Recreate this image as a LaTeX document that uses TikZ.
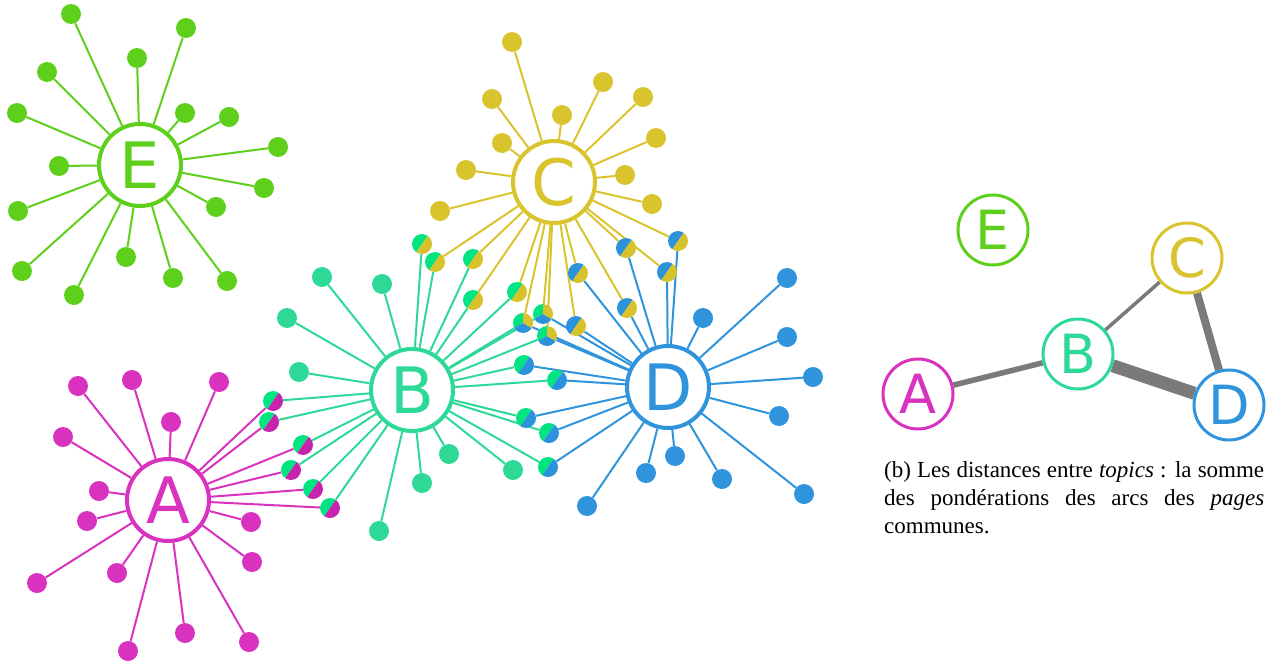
\documentclass[tikz,border=0pt]{standalone}
\usepackage{fontspec}
\setmainfont{Liberation Serif}
\newfontfamily\hubfam{DejaVu Sans}
\pgfdeclarelayer{bg}
\pgfsetlayers{bg,main}
\definecolor{cE}{RGB}{94,208,28}
\definecolor{cA}{RGB}{216,50,190}
\definecolor{cB}{RGB}{46,217,152}
\definecolor{cC}{RGB}{218,196,46}
\definecolor{cD}{RGB}{48,148,220}
\definecolor{sG}{RGB}{0,228,130}
\definecolor{sA}{RGB}{198,36,172}
\definecolor{sC}{RGB}{216,194,44}
\definecolor{sD}{RGB}{44,146,220}
\definecolor{wgray}{RGB}{122,122,122}
\tikzset{
  hub/.style={circle, draw=#1, text=#1, line width=4, fill=white, minimum size=82, inner sep=0,
    font=\hubfam\fontsize{64}{64}\selectfont},
  hubs/.style={circle, draw=#1, text=#1, line width=3, fill=white, minimum size=70, inner sep=0,
    font=\hubfam\fontsize{54}{54}\selectfont},
  leaf/.style={circle, minimum size=20, inner sep=0, fill=#1},
  pietwo/.style 2 args={circle, minimum size=20, inner sep=0, path picture={
    \fill[#1] (path picture bounding box.center) -- +(55:12pt) arc[start angle=55, end angle=235, radius=12pt] -- cycle;
    \fill[#2] (path picture bounding box.center) -- +(235:12pt) arc[start angle=235, end angle=415, radius=12pt] -- cycle;}},
  piethree/.style={circle, minimum size=20, inner sep=0, path picture={
    \fill[sG] (path picture bounding box.center) -- +(90:12pt) arc[start angle=90, end angle=210, radius=12pt] -- cycle;
    \fill[sD] (path picture bounding box.center) -- +(210:12pt) arc[start angle=210, end angle=330, radius=12pt] -- cycle;
    \fill[sC] (path picture bounding box.center) -- +(330:12pt) arc[start angle=330, end angle=450, radius=12pt] -- cycle;}},
  edge/.style={line width=2, draw=#1},
  wedge/.style={draw=wgray, line width=#1}
}
\begin{document}
\begin{tikzpicture}[x=1pt,y=1pt]
\useasboundingbox (0,0) rectangle (1271,-661);
% hubs
\node[hub=cE] (E) at (140,-165) {E};
\node[hub=cA] (A) at (168,-500) {A};
\node[hub=cB] (B) at (412,-390) {B};
\node[hub=cC] (C) at (554,-182) {C};
\node[hub=cD] (D) at (668,-387) {D};
% E leaves
\foreach \x/\y [count=\i] in {71/-14,186/-28,137/-58,47/-72,17/-113,185/-113,229/-117,278/-147,59/-166,264/-188,18/-211,216/-207,22/-271,126/-257,74/-295,173/-278,227/-281}
  \node[leaf=cE] (e\i) at (\x,\y) {};
% A leaves
\foreach \x/\y [count=\i] in {78/-386,132/-380,219/-382,171/-422,63/-437,99/-491,87/-521,251/-522,252/-562,117/-573,37/-583,185/-633,249/-642,128/-651}
  \node[leaf=cA] (a\i) at (\x,\y) {};
% B leaves
\foreach \x/\y [count=\i] in {322/-277,382/-284,287/-318,299/-372,449/-454,422/-483,513/-470,379/-531}
  \node[leaf=cB] (b\i) at (\x,\y) {};
% C leaves
\foreach \x/\y [count=\i] in {512/-42,492/-99,603/-82,643/-97,562/-115,502/-143,656/-138,466/-170,625/-175,440/-211,652/-204}
  \node[leaf=cC] (c\i) at (\x,\y) {};
% D leaves
\foreach \x/\y [count=\i] in {787/-278,703/-318,787/-337,813/-377,779/-416,675/-456,646/-473,722/-479,804/-494,587/-506}
  \node[leaf=cD] (d\i) at (\x,\y) {};
% shared A-B
\foreach \x/\y [count=\i] in {273/-401,269/-422,303/-445,291/-470,313/-489,330/-508}
  \node[pietwo={sG}{sA}] (ab\i) at (\x,\y) {};
% shared B-C
\foreach \x/\y [count=\i] in {422/-244,435/-262,473/-259,473/-300,517/-292}
  \node[pietwo={sG}{sC}] (bc\i) at (\x,\y) {};
% shared B-C-D
\foreach \x/\y [count=\i] in {523/-323,543/-314,547/-336}
  \node[piethree] (bcd\i) at (\x,\y) {};
% shared C-D
\foreach \x/\y [count=\i] in {578/-273,626/-248,678/-241,667/-272,627/-308,576/-326}
  \node[pietwo={sD}{sC}] (cd\i) at (\x,\y) {};
% shared B-D
\foreach \x/\y [count=\i] in {524/-365,557/-380,526/-418,549/-433,548/-467}
  \node[pietwo={sG}{sD}] (bd\i) at (\x,\y) {};
% edges
\begin{pgfonlayer}{bg}
\foreach \i in {1,...,17} \draw[edge=cE] (E) -- (e\i);
\foreach \i in {1,...,14} \draw[edge=cA] (A) -- (a\i);
\foreach \i in {1,...,8} \draw[edge=cB] (B) -- (b\i);
\foreach \i in {1,...,11} \draw[edge=cC] (C) -- (c\i);
\foreach \i in {1,...,10} \draw[edge=cD] (D) -- (d\i);
\foreach \i in {1,...,6} {\draw[edge=cA] (A) -- (ab\i); \draw[edge=cB] (B) -- (ab\i);}
\draw[edge=cB] (B) -- (bc1);
\foreach \i in {2,...,5} {\draw[edge=cB] (B) -- (bc\i); \draw[edge=cC] (C) -- (bc\i);}
\foreach \i in {1,...,3} {\draw[edge=cB] (B) -- (bcd\i); \draw[edge=cC] (C) -- (bcd\i); \draw[edge=cD] (D) -- (bcd\i);}
\foreach \i in {1,...,6} {\draw[edge=cC] (C) -- (cd\i); \draw[edge=cD] (D) -- (cd\i);}
\foreach \i in {1,...,5} {\draw[edge=cB] (B) -- (bd\i); \draw[edge=cD] (D) -- (bd\i);}
\end{pgfonlayer}
% right graph
\node[hubs=cE] (E2) at (993,-230) {E};
\node[hubs=cC] (C2) at (1187,-258) {C};
\node[hubs=cB] (B2) at (1078,-354) {B};
\node[hubs=cA] (A2) at (918,-394) {A};
\node[hubs=cD] (D2) at (1229,-405) {D};
\begin{pgfonlayer}{bg}
\draw[wedge=5.5] (A2) -- (B2);
\draw[wedge=3.5] (B2) -- (C2);
\draw[wedge=8] (C2) -- (D2);
\draw[wedge=13] (B2) -- (D2);
\end{pgfonlayer}
% caption
\node[anchor=north west, inner sep=0, text width=380, align=justify,
  font=\fontsize{23}{28}\selectfont] (cap) at (884,-461)
  {(b) Les distances entre \textit{topics} : la somme\linebreak des pondérations des arcs des \textit{pages}\linebreak communes.};
\end{tikzpicture}
\end{document}
